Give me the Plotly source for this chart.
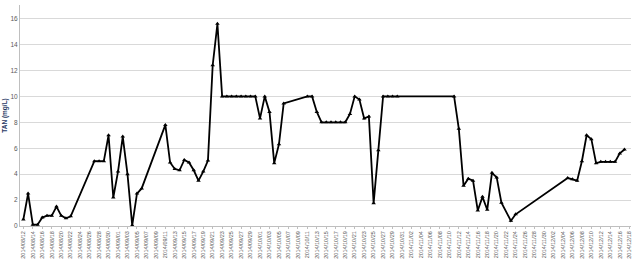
import plotly.graph_objects as go
import pandas as pd

dates = [
    "2014-08-12", "2014-08-13", "2014-08-14", "2014-08-15", "2014-08-16", "2014-08-17",
    "2014-08-18", "2014-08-19", "2014-08-20", "2014-08-21", "2014-08-22",
    "2014-08-27", "2014-08-28", "2014-08-29", "2014-08-30", "2014-08-31",
    "2014-09-01", "2014-09-02", "2014-09-03", "2014-09-04", "2014-09-05", "2014-09-06",
    "2014-09-11", "2014-09-12", "2014-09-13", "2014-09-14", "2014-09-15", "2014-09-16",
    "2014-09-17", "2014-09-18", "2014-09-19", "2014-09-20", "2014-09-21", "2014-09-22",
    "2014-09-23", "2014-09-24", "2014-09-25", "2014-09-26", "2014-09-27", "2014-09-28",
    "2014-09-29", "2014-09-30", "2014-10-01", "2014-10-02", "2014-10-03", "2014-10-04",
    "2014-10-05", "2014-10-06", "2014-10-11", "2014-10-12", "2014-10-13", "2014-10-14",
    "2014-10-15", "2014-10-16", "2014-10-17", "2014-10-18", "2014-10-19", "2014-10-20",
    "2014-10-21", "2014-10-22", "2014-10-23", "2014-10-24", "2014-10-25", "2014-10-26",
    "2014-10-27", "2014-10-28", "2014-10-29", "2014-10-30",
    "2014-11-11", "2014-11-12", "2014-11-13", "2014-11-14", "2014-11-15", "2014-11-16",
    "2014-11-17", "2014-11-18", "2014-11-19", "2014-11-20", "2014-11-21", "2014-11-23",
    "2014-11-24",
    "2014-12-05", "2014-12-06", "2014-12-07", "2014-12-08", "2014-12-09", "2014-12-10",
    "2014-12-11", "2014-12-12", "2014-12-13", "2014-12-14", "2014-12-15", "2014-12-16",
    "2014-12-17",
]
tan = [
    0.5, 2.5, 0.1, 0.1, 0.65, 0.8,
    0.8, 1.5, 0.8, 0.6, 0.75,
    5.0, 5.0, 5.0, 7.0, 2.2,
    4.2, 6.9, 4.0, 0.05, 2.5, 2.9,
    7.8, 4.9, 4.4, 4.3, 5.1, 4.9,
    4.3, 3.5, 4.2, 5.05, 12.4, 15.6,
    10, 10, 10, 10, 10, 10,
    10, 10, 8.3, 10, 8.8, 4.85,
    6.3, 9.45, 10, 10, 8.8, 8.0,
    8.0, 8.0, 8.0, 8.0, 8.0, 8.65,
    10, 9.75, 8.3, 8.45, 1.75, 5.85,
    10, 10, 10, 10,
    10, 7.5, 3.1, 3.65, 3.5, 1.2,
    2.25, 1.25, 4.1, 3.75, 1.8, 0.4,
    0.9,
    3.7, 3.6, 3.5, 5.0, 7.0, 6.7,
    4.85, 4.95, 4.95, 4.95, 4.95, 5.6,
    5.9,
]
tick_dates = pd.date_range("2014-08-12", "2014-12-18", freq="2D")
y_ticks = [0, 2, 4, 6, 8, 10, 12, 14, 16]

start = pd.Timestamp("2014-08-12")
x_range = [start - pd.Timedelta(hours=17), start + pd.Timedelta(hours=int(128.4 * 24))]

fig = go.Figure()
fig.add_trace(go.Scatter(
    x=pd.to_datetime(dates), y=tan, mode="lines+markers",
    line=dict(color="black", width=1.8),
    marker=dict(symbol="triangle-up", size=4, color="black"),
    showlegend=False,
))

fig.update_layout(
    width=635, height=262,
    margin=dict(l=20, r=3, t=5, b=34),
    paper_bgcolor="white", plot_bgcolor="white",
    font=dict(family="Liberation Sans, Arial, sans-serif", color="#595959"),
    xaxis=dict(
        type="date", range=x_range,
        tickmode="array", tickvals=list(tick_dates),
        ticktext=[d.strftime("%Y/%m/%d") for d in tick_dates],
        tickangle=-90, tickfont=dict(size=5.5, color="#595959"),
        showgrid=False, showline=True, linecolor="#bfbfbf", linewidth=1,
        ticks="outside", ticklen=2, tickcolor="#bfbfbf",
        zeroline=False,
    ),
    yaxis=dict(
        range=[0, 17.05], tickmode="array", tickvals=y_ticks,
        tickfont=dict(size=6.5, color="#595959"),
        showgrid=True, gridcolor="#d9d9d9", gridwidth=1,
        showline=True, linecolor="#bfbfbf", linewidth=1,
        zeroline=False, ticks="",
        title=dict(text="<b>TAN (mg/L)</b>", font=dict(size=6.5, color="#1f3864"), standoff=2),
    ),
)

fig.write_html("out.html")
